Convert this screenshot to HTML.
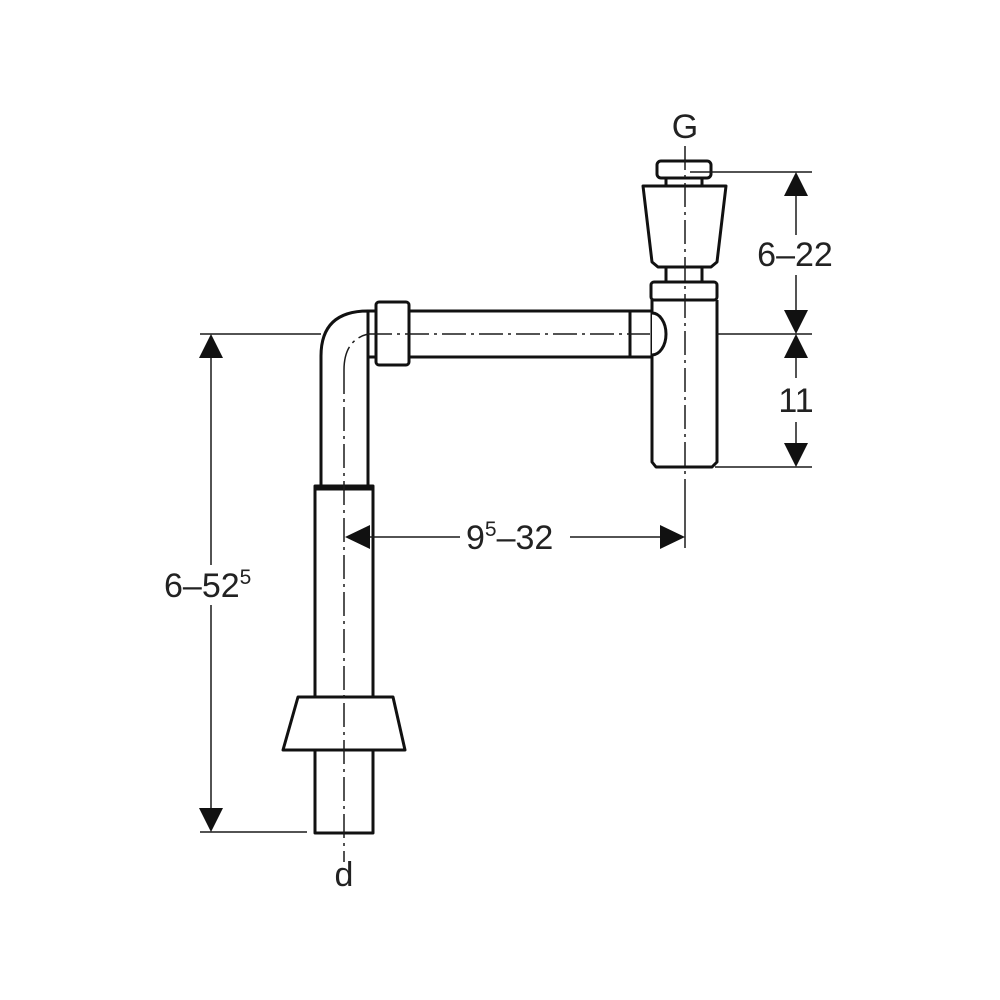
<!DOCTYPE html><html><head><style>body{margin:0;background:#fff}svg{display:block}text{font-family:"Liberation Sans",sans-serif;fill:#222}</style></head><body>
<svg width="1000" height="1000" viewBox="0 0 1000 1000" xmlns="http://www.w3.org/2000/svg">
<g fill="#fff" stroke="#111" stroke-width="3" stroke-linejoin="round">
<rect x="406" y="311" width="250" height="46"/>
<line x1="630" y1="311" x2="630" y2="357"/>
<path d="M652,300 L652,462 L656,467 L712,467 L717,462 L717,300"/>
<path d="M652,313 A14,21 0 0 1 652,355" />
<rect x="651" y="282" width="66" height="18" rx="3"/>
<rect x="666" y="266" width="36" height="16"/>
<path d="M643,186 L726,186 L717,262 L711,267 L658,267 L652,262 Z"/>
<rect x="666" y="176" width="36" height="10"/>
<rect x="657" y="161" width="54" height="17" rx="4"/>
<path d="M321,486 L321,356 Q321,311 368,311 L368,357 L368,486"/>
<rect x="368" y="311" width="8" height="46"/>
<rect x="376" y="302" width="33" height="63" rx="3"/>
<rect x="315" y="486" width="58" height="211"/>
<line x1="315" y1="488" x2="373" y2="488" stroke-width="5"/>
<path d="M298,697 L393,697 L405,750 L283,750 Z"/>
<rect x="315" y="750" width="58" height="83"/>
</g>
<g fill="none" stroke="#1a1a1a" stroke-width="1.5">
<line x1="690" y1="172" x2="812" y2="172"/>
<line x1="200" y1="334" x2="321" y2="334"/>
<line x1="717" y1="334" x2="812" y2="334"/>
<line x1="715" y1="467" x2="812" y2="467"/>
<line x1="200" y1="832" x2="307" y2="832"/>
<line x1="685" y1="480" x2="685" y2="548"/>
<line x1="211" y1="340" x2="211" y2="565"/><line x1="211" y1="605" x2="211" y2="826"/>
<line x1="796" y1="178" x2="796" y2="235"/><line x1="796" y1="275" x2="796" y2="328"/>
<line x1="796" y1="340" x2="796" y2="378"/><line x1="796" y1="422" x2="796" y2="461"/>
<line x1="350" y1="537" x2="460" y2="537"/><line x1="570" y1="537" x2="680" y2="537"/>
</g>
<g fill="#111">
<polygon points="211,334 199,358 223,358"/><polygon points="211,832 199,808 223,808"/>
<polygon points="796,172 784,196 808,196"/><polygon points="796,334 784,310 808,310"/>
<polygon points="796,334 784,358 808,358"/><polygon points="796,467 784,443 808,443"/>
<polygon points="345,537 370,525 370,549"/><polygon points="685,537 660,525 660,549"/>
</g>
<g fill="none" stroke="#1a1a1a" stroke-width="1.5" stroke-dasharray="24,5,3,5">
<line x1="685" y1="146" x2="685" y2="480"/>
<line x1="344" y1="370" x2="344" y2="862"/>
<line x1="368" y1="334" x2="650" y2="334"/>
<path d="M344,370 Q344,340 368,334"/>
</g>
<g font-size="34">
<text x="685" y="138" text-anchor="middle">G</text>
<text x="795" y="266" text-anchor="middle">6–22</text>
<text x="796" y="412" text-anchor="middle">11</text>
<text x="164" y="597">6–52<tspan font-size="21" dy="-13">5</tspan></text>
<text x="466" y="549">9<tspan font-size="21" dy="-13">5</tspan><tspan dy="13">–32</tspan></text>
<text x="344" y="886" text-anchor="middle">d</text>
</g>
</svg></body></html>
